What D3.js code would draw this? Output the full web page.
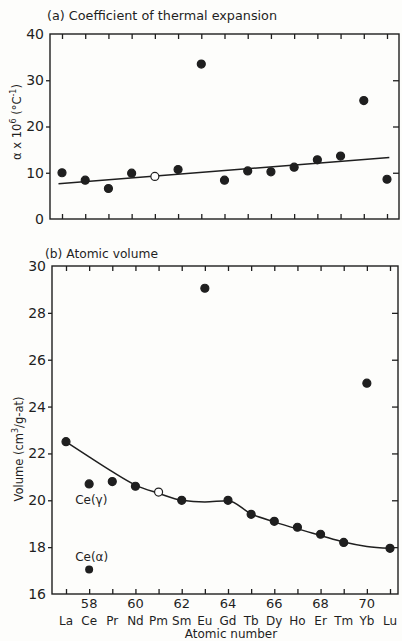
<!DOCTYPE html>
<html><head><meta charset="utf-8">
<script src="https://cdn.jsdelivr.net/npm/d3@7"></script>
<style>html,body{margin:0;padding:0;background:#fdfdfb;}svg{display:block;}</style>
</head><body>
<script>
// ---- data ----
const atomicNumbers = [57,58,59,60,61,62,63,64,65,66,67,68,69,70,71];
const elements = ["La","Ce","Pr","Nd","Pm","Sm","Eu","Gd","Tb","Dy","Ho","Er","Tm","Yb","Lu"];
const numberLabels = [58,60,62,64,66,68,70];
// (a) thermal expansion, alpha x 10^6 (°C^-1)
const alphaValues = [10.0,8.4,6.6,9.9,9.2,10.7,33.5,8.4,10.4,10.2,11.2,12.8,13.6,25.6,8.6];
const alphaOpen = [false,false,false,false,true,false,false,false,false,false,false,false,false,false,false];
const trendX = [56.85, 71.1];
const trendY = [7.6, 13.3];
const alphaTicks = [0,10,20,30,40];
// (b) atomic volume (cm3/g-at)
const volumeValues = [22.5,20.7,20.8,20.6,20.35,20.0,29.05,20.0,19.4,19.1,18.85,18.55,18.2,25.0,17.95];
const volumeOpen = alphaOpen;
const ceAlpha = {z:58, v:17.05};
const curveX = [57,58,59,60,61,62,63,64,65,66,67,68,69,70,71];
const curveY = [22.5,21.85,21.22,20.65,20.3,20.0,19.93,19.98,19.42,19.08,18.78,18.5,18.22,18.03,17.95];
const volumeTicks = [16,18,20,22,24,26,28,30];

const W=402,H=641, ink="#1f1f1f";
const font="'DejaVu Sans', sans-serif";
const svg=d3.select("body").append("svg").attr("width",W).attr("height",H);

function panel(o){
  const g=svg.append("g");
  const x=d3.scaleLinear().domain([57,71]).range([o.xLa,o.xLu]);
  const y=d3.scaleLinear().domain(o.ydom).range([o.bottom,o.top]);
  g.append("rect").attr("x",o.left).attr("y",o.top).attr("width",o.right-o.left).attr("height",o.bottom-o.top)
    .attr("fill","none").attr("stroke",ink).attr("stroke-width",1.4);
  const bot=d3.axisBottom(x).tickValues(atomicNumbers).tickSize(-5).tickFormat("");
  const topA=d3.axisTop(x).tickValues(atomicNumbers).tickSize(-5).tickFormat("");
  [ [bot,o.bottom],[topA,o.top] ].forEach(([ax,yy])=>{
    const a=g.append("g").attr("transform",`translate(0,${yy})`).call(ax);
    a.select(".domain").remove();
    a.selectAll("line").attr("stroke",ink).attr("stroke-width",1.3);
  });
  const left=d3.axisLeft(y).tickValues(o.yticks).tickSize(4).tickPadding(2);
  const la=g.append("g").attr("transform",`translate(${o.left},0)`).call(left);
  la.select(".domain").remove();
  la.selectAll("line").attr("stroke",ink).attr("stroke-width",1.3)
    .attr("display",d=>(d===o.ydom[0]||d===o.ydom[1])?"none":null);
  la.selectAll("text").attr("font-family",font).attr("font-size",14).attr("fill",ink);
  const right=d3.axisRight(y).tickValues(o.yticks.filter(d=>d!==o.ydom[0]&&d!==o.ydom[1])).tickSize(-6).tickFormat("");
  const ra=g.append("g").attr("transform",`translate(${o.right},0)`).call(right);
  ra.select(".domain").remove();
  ra.selectAll("line").attr("stroke",ink).attr("stroke-width",1.3);
  g.append("text").attr("x",o.titleX).attr("y",o.titleY).attr("font-family",font).attr("font-size",12)
    .attr("textLength",o.titleW).attr("lengthAdjust","spacingAndGlyphs")
    .attr("fill",ink).text(o.title);
  g.append("text").attr("transform",`translate(${o.ylabX},${o.ylabY}) rotate(-90)`).attr("text-anchor","middle")
    .attr("font-family",font).attr("font-size",11.5).attr("fill",ink).html(o.ylab);
  return {g,x,y};
}

// ---- panel a ----
const A=panel({left:50,right:399,top:34,bottom:219,xLa:62,xLu:387,ydom:[0,40],yticks:alphaTicks,
  title:"(a) Coefficient of thermal expansion",titleX:47,titleY:20,titleW:230,ylabX:21,ylabY:122,
  ylab:"α x 10<tspan dy='-5' font-size='8'>6</tspan><tspan dy='5'> (°C</tspan><tspan dy='-5' font-size='8'>-1</tspan><tspan dy='5'>)</tspan>"});
A.g.append("path").datum(trendX.map((d,i)=>[d,trendY[i]]))
  .attr("d",d3.line().x(d=>A.x(d[0])).y(d=>A.y(d[1])))
  .attr("fill","none").attr("stroke",ink).attr("stroke-width",1.5);
A.g.selectAll("circle.pt").data(atomicNumbers).join("circle")
  .attr("cx",d=>A.x(d)).attr("cy",(d,i)=>A.y(alphaValues[i])).attr("r",4)
  .attr("fill",(d,i)=>alphaOpen[i]?"#fff":ink).attr("stroke",ink).attr("stroke-width",1.2);

// ---- panel b ----
const B=panel({left:52,right:398,top:266,bottom:594,xLa:66,xLu:390,ydom:[16,30],yticks:volumeTicks,
  title:"(b) Atomic volume",titleX:45,titleY:258,titleW:113,ylabX:23,ylabY:449,
  ylab:"Volume (cm<tspan dy='-5' font-size='8'>3</tspan><tspan dy='5'>/g-at)</tspan>"});
B.g.append("path").datum(curveX.map((d,i)=>[d,curveY[i]]))
  .attr("d",d3.line().curve(d3.curveMonotoneX).x(d=>B.x(d[0])).y(d=>B.y(d[1])))
  .attr("fill","none").attr("stroke",ink).attr("stroke-width",1.5);
B.g.selectAll("circle.pt").data(atomicNumbers).join("circle")
  .attr("cx",d=>B.x(d)).attr("cy",(d,i)=>B.y(volumeValues[i])).attr("r",4)
  .attr("fill",(d,i)=>volumeOpen[i]?"#fff":ink).attr("stroke",ink).attr("stroke-width",1.2);
B.g.append("circle").attr("cx",B.x(ceAlpha.z)).attr("cy",B.y(ceAlpha.v)).attr("r",4).attr("fill",ink);
B.g.append("text").attr("x",B.x(58)-14).attr("y",B.y(20.7)+20).attr("font-family",font).attr("font-size",12)
  .attr("fill",ink).text("Ce(γ)");
B.g.append("text").attr("x",B.x(58)-14).attr("y",B.y(17.05)-8).attr("font-family",font).attr("font-size",12)
  .attr("fill",ink).text("Ce(α)");
B.g.selectAll("text.num").data(numberLabels).join("text").attr("class","num")
  .attr("x",d=>B.x(d)).attr("y",608).attr("text-anchor","middle").attr("font-family",font).attr("font-size",13)
  .attr("fill",ink).text(d=>d);
B.g.selectAll("text.el").data(atomicNumbers).join("text").attr("class","el")
  .attr("x",d=>B.x(d)).attr("y",625).attr("text-anchor","middle").attr("font-family",font).attr("font-size",12)
  .attr("fill",ink).text((d,i)=>elements[i]);
B.g.append("text").attr("x",231).attr("y",638).attr("text-anchor","middle").attr("font-family",font).attr("font-size",12)
  .attr("fill",ink).text("Atomic number");
</script>
</body></html>
